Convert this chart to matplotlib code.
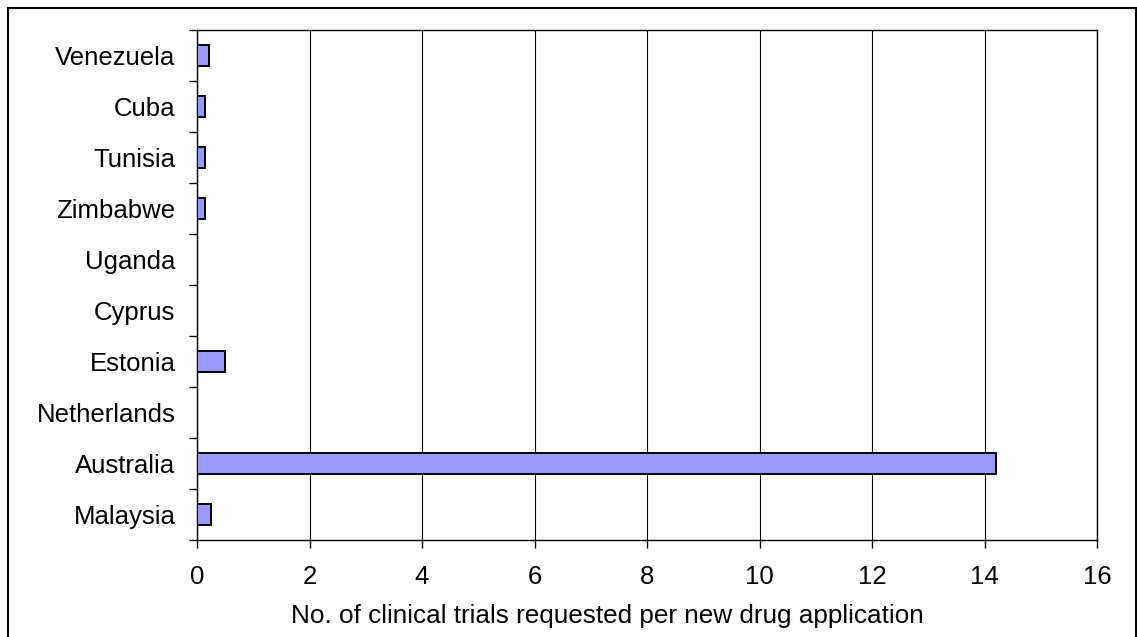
import matplotlib
matplotlib.use("Agg")
import matplotlib.pyplot as plt
from matplotlib.patches import Rectangle

countries = ["Malaysia", "Australia", "Netherlands", "Estonia", "Cyprus",
             "Uganda", "Zimbabwe", "Tunisia", "Cuba", "Venezuela"]
values = [0.24, 14.21, 0.0, 0.5, 0.0, 0.0, 0.14, 0.14, 0.14, 0.21]
xticks = [0, 2, 4, 6, 8, 10, 12, 14, 16]

plt.rcParams['font.family'] = ['Liberation Sans', 'DejaVu Sans']

fig = plt.figure(figsize=(11.37, 6.37), dpi=100)
ax = fig.add_axes([197/1137, (637-540)/637, 900/1137, 510/637])

pos = list(range(len(countries)))
ax.barh(pos, values, height=0.4, color='#9999ff', edgecolor='black', linewidth=1.4, zorder=3)

ax.set_xlim(0, 16)
ax.set_ylim(-0.5, len(countries) - 0.5)
ax.set_xticks(xticks)
ax.set_xticklabels([str(t) for t in xticks], fontsize=18.5)
ax.set_yticks(pos)
ax.set_yticklabels(countries, fontsize=18.5)
ax.tick_params(axis='y', length=0, pad=15.5)
ax.set_yticks([p - 0.5 for p in pos] + [len(countries) - 0.5], minor=True)
ax.tick_params(axis='y', which='minor', length=6, width=1, direction='out')
ax.tick_params(axis='x', length=6, width=1, direction='out', pad=12)
ax.grid(axis='x', color='black', linewidth=0.8, zorder=0)
for s in ax.spines.values():
    s.set_linewidth(1)
ax.set_xlabel("No. of clinical trials requested per new drug application", fontsize=18.8)
ax.xaxis.label.set_va('baseline')
ax.xaxis.set_label_coords((607 - 197) / 900, (540 - 623) / 510)

fig.patches.append(Rectangle((8/1137, -10/637), 1128/1137, 639/637, transform=fig.transFigure,
                             fill=False, edgecolor='black', linewidth=1.5))

fig.savefig("out.png", dpi=100)
